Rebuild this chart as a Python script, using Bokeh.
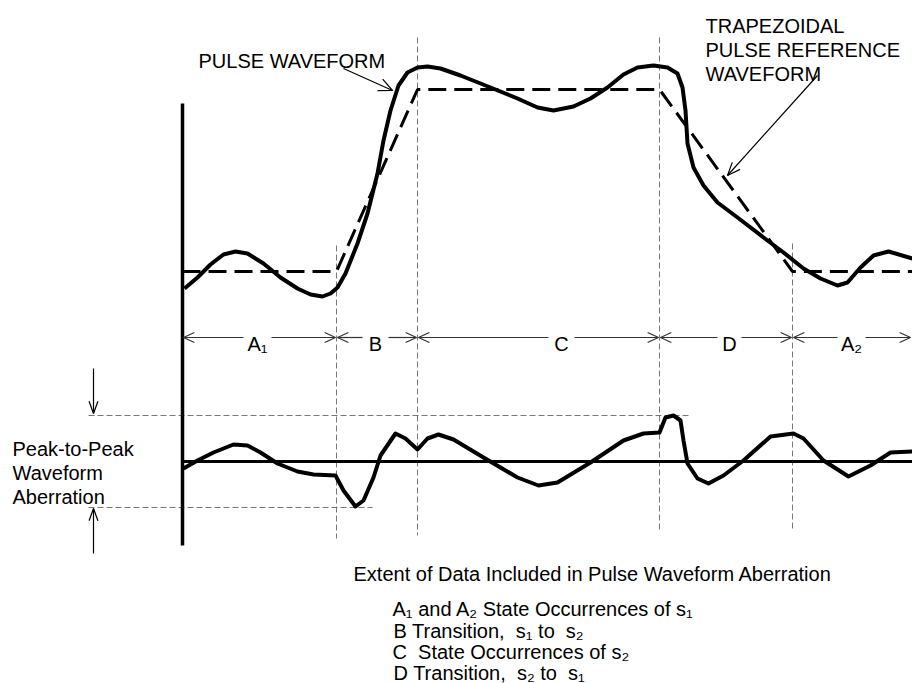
import math
from bokeh.plotting import figure
from bokeh.models import Range1d
from bokeh.core.properties import value
from bokeh.embed import file_html
from bokeh.resources import INLINE

FONT = value("Liberation Sans")

# ---------------- data (pixel-space diagram coordinates) ----------------
# Pulse waveform (solid)
pulse_x = [184, 197, 210, 223, 235, 247, 263, 280, 297, 310, 322, 330, 337, 345, 357, 367, 377, 383,
           390, 398, 407, 417, 427, 440, 460, 490, 517, 537, 553, 573, 590, 607, 623, 637, 653, 667,
           677, 682, 685, 687, 693, 703, 717, 737, 763, 783, 803, 820, 837, 847, 860, 873, 888, 912]
pulse_y = [288, 277, 264, 254, 251, 253, 263, 277, 288, 294, 296, 293, 287, 273, 243, 213, 173, 140,
           110, 85, 72, 67, 66, 68, 75, 87, 98, 107, 110, 106, 98, 87, 74, 67, 65, 67,
           73, 87, 110, 143, 167, 185, 202, 217, 237, 252, 268, 278, 285, 282, 267, 255, 251, 258]

# Trapezoidal pulse reference waveform (dashed)
trap_x = [182, 336, 417, 659, 792, 912]
trap_y = [271, 271, 89, 89, 271, 271]

# Waveform aberration (difference) curve
aber_x = [183, 197, 213, 233, 247, 260, 277, 297, 313, 335, 343, 355, 363, 373, 380, 395, 405, 417,
          427, 438, 453, 483, 517, 538, 557, 590, 623, 643, 659, 665, 673, 680, 683, 687, 697, 708,
          723, 743, 770, 793, 803, 823, 848, 870, 890, 912]
aber_y = [468, 460, 452, 444, 445, 452, 463, 471, 474, 475, 490, 506, 500, 477, 455, 433, 438, 449,
          438, 434, 439, 457, 477, 485, 482, 462, 440, 433, 432, 417, 415, 420, 440, 463, 478, 483,
          475, 460, 436, 433, 438, 460, 476, 465, 452, 451]
aber_baseline = 461
peak_hi = 415
peak_lo = 507

# Region boundaries and labels
bounds = [182, 336, 417, 659, 792, 911]
region_labels = ["A\u2081", "B", "C", "D", "A\u2082"]
region_label_x = [257, 375, 561, 729, 851]
region_gap = [14, 13, 13, 12, 14]
row_y = 337

legend_lines = ["A\u2081 and A\u2082 State Occurrences of s\u2081",
                "B Transition,\u00a0 s\u2081 to\u00a0 s\u2082",
                "C\u00a0 State Occurrences of s\u2082",
                "D Transition,\u00a0 s\u2082 to\u00a0 s\u2081"]

# ---------------- figure ----------------
W, H = 912, 683
p = figure(width=W, height=H, output_backend="svg", toolbar_location=None,
           x_range=Range1d(0, W), y_range=Range1d(H, 0),
           min_border=0, outline_line_color=None, background_fill_color="white",
           border_fill_color="white")
p.xaxis.visible = False
p.yaxis.visible = False
p.xgrid.visible = False
p.ygrid.visible = False


def head(tx, ty, fx, fy, length, half_angle_deg):
    a = math.atan2(fy - ty, fx - tx)
    h = math.radians(half_angle_deg)
    xs, ys = [], []
    for s in (-1, 1):
        xs.append([tx + length * math.cos(a + s * h), tx])
        ys.append([ty + length * math.sin(a + s * h), ty])
    return xs, ys

# thin dashed verticals
p.multi_line(xs=[[336, 336], [417, 417], [659, 659], [792, 792]],
             ys=[[245, 538], [37, 535], [37, 530], [243, 529]],
             line_color="#777777", line_width=1, line_dash="6 3")
# dashed horizontals for peak-to-peak
p.multi_line(xs=[[88, 688], [88, 372]], ys=[[peak_hi, peak_hi], [peak_lo, peak_lo]],
             line_color="#777777", line_width=1, line_dash="6 3")

# main vertical axis bar
p.line([182, 182], [103, 545], line_color="black", line_width=3.5)

# trapezoid reference
p.line(trap_x, trap_y, line_color="black", line_width=3, line_dash="18 8")
# pulse waveform
p.line(pulse_x, pulse_y, line_color="black", line_width=4, line_join="round")

# aberration baseline and curve
p.line([182, 912], [aber_baseline, aber_baseline], line_color="black", line_width=3)
p.line(aber_x, aber_y, line_color="black", line_width=4, line_join="round")

# region dimension row
sx, sy = [], []
for i, lab in enumerate(region_labels):
    x0, x1 = bounds[i], bounds[i + 1]
    cx, g = region_label_x[i], region_gap[i]
    sx += [[x0 + 1, cx - g], [cx + g, x1 - 1]]
    sy += [[row_y, row_y], [row_y, row_y]]
    hx, hy = head(x0 + 1, row_y, x1, row_y, 12, 25)
    sx += hx; sy += hy
    hx, hy = head(x1 - 1, row_y, x0, row_y, 12, 25)
    sx += hx; sy += hy
p.multi_line(xs=sx, ys=sy, line_color="#333333", line_width=1.2)
p.text(x=region_label_x, y=[row_y + 6] * 5, text=region_labels, text_font=FONT,
       text_font_size="20px", text_align="center", text_baseline="alphabetic", text_color="black")

# pointer arrows
ax, ay = [[343, 392], [817, 727], [93, 93], [93, 93]], [[68, 90], [75, 175], [368, 413], [553, 508]]
for (x0, x1), (y0, y1), L, ang in zip(list(ax), list(ay), [15, 14, 13, 13], [25, 22, 20, 20]):
    hx, hy = head(x1, y1, x0, y0, L, ang)
    ax = ax + hx
    ay = ay + hy
p.multi_line(xs=ax, ys=ay, line_color="black", line_width=1.2)

# texts
p.text(x=[198], y=[60], text=["PULSE WAVEFORM"], text_font=FONT, text_font_size="20px",
       text_baseline="alphabetic", text_color="black")
p.text(x=[705, 705, 705], y=[25, 49, 73], text=["TRAPEZOIDAL", "PULSE REFERENCE", "WAVEFORM"],
       text_font=FONT, text_font_size="20px", text_baseline="alphabetic", text_color="black")
p.text(x=[12, 12, 12], y=[448, 472, 496], text=["Peak-to-Peak", "Waveform", "Aberration"],
       text_font=FONT, text_font_size="20px", text_baseline="alphabetic", text_color="black")
p.text(x=[353], y=[573], text=["Extent of Data Included in Pulse Waveform Aberration"],
       text_font=FONT, text_font_size="20px", text_baseline="alphabetic", text_color="black")
p.text(x=[392, 393, 392, 393], y=[608, 630, 651, 672], text=legend_lines,
       text_font=FONT, text_font_size="20px", text_baseline="alphabetic", text_color="black")

open("out.html", "w").write(file_html(p, INLINE))
